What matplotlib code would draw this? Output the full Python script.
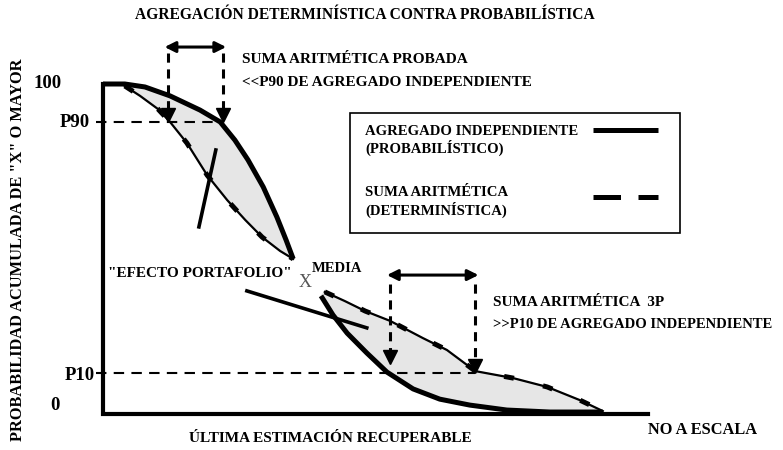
import numpy as np
import matplotlib
matplotlib.use("Agg")
import matplotlib.pyplot as plt
from matplotlib.patches import Rectangle

plt.rcParams['font.family'] = ['Liberation Serif', 'DejaVu Serif']
plt.rcParams['font.weight'] = 'bold'

# schematic units: x = estimation (not to scale, 0..100), y = cumulative probability (0..100)
P90 = 88.5
P10 = 12.4

# upper lobe (high probability end)
prob_hi_x = [0, 4.0, 7.7, 12.3, 17.8, 21.5, 24.2, 26.6, 29.4, 31.9, 33.6, 34.9]
prob_hi_y = [100, 100, 99.1, 96.4, 92.1, 88.5, 83.0, 77.0, 68.8, 59.7, 52.7, 47.0]
det_hi_x = [4.0, 6.8, 10.1, 12.3, 15.4, 19.1, 22.8, 26.1, 29.2, 32.5, 34.9]
det_hi_y = [99.4, 96.4, 92.4, 88.5, 82.1, 72.4, 64.8, 58.8, 53.6, 49.4, 47.0]

# lower lobe (low probability end)
prob_lo_x = [40.0, 42.2, 44.8, 48.4, 52.1, 56.9, 61.8, 67.3, 74.1, 82.0, 91.7]
prob_lo_y = [35.8, 30.0, 24.5, 18.5, 12.7, 7.6, 4.5, 2.7, 1.2, 0.6, 0.6]
det_lo_x = [40.7, 44.4, 48.1, 52.7, 58.7, 63.1, 68.3, 75.2, 81.5, 87.5, 91.7]
det_lo_y = [37.0, 34.2, 31.2, 28.2, 23.0, 19.4, 13.0, 10.9, 8.2, 4.2, 0.9]

# "portfolio effect" strokes
pf_hi_x = [20.7, 17.6]
pf_hi_y = [80.0, 56.7]
pf_lo_x = [26.4, 48.4]
pf_lo_y = [37.3, 26.1]

# arrows marking the gap between deterministic and probabilistic values
gap_hi_x = [11.9, 22.0]
gap_lo_x = [52.7, 68.3]

fig = plt.figure(figsize=(7.83, 4.5), dpi=100)
ax = fig.add_axes([0, 0, 1, 1])
ax.set_xlim(-103 / 5.45, 680 / 5.45)
ax.set_ylim(-36 / 3.3, 100 + 84 / 3.3)
ax.axis('off')

fill_c = '#e6e6e6'
ax.fill(prob_hi_x + det_hi_x[::-1], prob_hi_y + det_hi_y[::-1], color=fill_c, zorder=1)
ax.fill(prob_lo_x + det_lo_x[::-1], prob_lo_y + det_lo_y[::-1], color=fill_c, zorder=1)

# axes frame
ax.plot([0, 0, 100], [100, 0, 0], color='black', lw=3, solid_joinstyle='miter', zorder=4)

# reference percentile lines
ax.plot([-1.2, gap_hi_x[1]], [P90, P90], color='black', lw=1.5, dashes=(5, 3.5), zorder=2)
ax.plot([-1.2, gap_lo_x[1]], [P10, P10], color='black', lw=1.5, dashes=(5, 3.5), zorder=2)

# probabilistic (solid, thick)
for xs, ys in [(prob_hi_x, prob_hi_y), (prob_lo_x, prob_lo_y)]:
    ax.plot(xs, ys, color='black', lw=3.6, solid_capstyle='butt', zorder=3)

# deterministic (thin line with heavy dashes)
for xs, ys in [(det_hi_x, det_hi_y), (det_lo_x, det_lo_y)]:
    ax.plot(xs, ys, color='black', lw=1.6, zorder=3)
    ax.plot(xs, ys, color='black', lw=3.6, dashes=(2, 6), solid_capstyle='butt', zorder=3)

ax.plot(pf_hi_x, pf_hi_y, color='black', lw=2.6, zorder=3)
ax.plot(pf_lo_x, pf_lo_y, color='black', lw=2.6, zorder=3)

# gap arrows
for gx, y_bar, y_top, tips in [(gap_hi_x, 111.2, 109.5, [90.5, 90.5]),
                               (gap_lo_x, 42.1, 39.3, [17.2, 14.4])]:
    ax.annotate('', xy=(gx[0] - 0.6, y_bar), xytext=(gx[1] + 0.6, y_bar),
                arrowprops=dict(arrowstyle='<|-|>', color='black', lw=2.2,
                                mutation_scale=16, shrinkA=0, shrinkB=0), zorder=5)
    for xv, tip in zip(gx, tips):
        ax.plot([xv, xv], [y_top, tip], color='black', lw=2.2, dashes=(3, 2.2), zorder=5)
        ax.plot(xv, tip, marker='v', color='black', markersize=10, zorder=5)

# axis labels
fs = 11.0
ax.text(48.1, 120.9, 'AGREGACIÓN DETERMINÍSTICA CONTRA PROBABILÍSTICA', ha='center', va='center', fontsize=11.2)
ax.text(41.7, -7.3, 'ÚLTIMA ESTIMACIÓN RECUPERABLE', ha='center', va='center', fontsize=fs)
ax.text(100.0, -4.8, 'NO A ESCALA', ha='left', va='center', fontsize=11.8)
ax.text(-15.6, 49.7, 'PROBABILIDAD ACUMULADA DE "X" O MAYOR', ha='center', va='center',
        rotation=90, fontsize=11.8)

for label, xv, yv in [('100', -10.1, 100.3), ('P90', -5.1, 88.2), ('P10', -4.2, 11.8), ('0', -8.8, 2.7)]:
    ax.text(xv, yv, label, ha='center', va='center', fontsize=13.5)

# annotations
ax.text(25.5, 107.3, 'SUMA ARITMÉTICA PROBADA', ha='left', va='center', fontsize=fs)
ax.text(25.5, 100.6, '<<P90 DE AGREGADO INDEPENDIENTE', ha='left', va='center', fontsize=fs)
ax.text(71.6, 33.9, 'SUMA ARITMÉTICA  3P', ha='left', va='center', fontsize=fs)
ax.text(71.6, 27.0, '>>P10 DE AGREGADO INDEPENDIENTE', ha='left', va='center', fontsize=10.5)
ax.text(17.8, 42.7, '"EFECTO PORTAFOLIO"', ha='center', va='center', fontsize=fs)
ax.text(42.9, 44.2, 'MEDIA', ha='center', va='center', fontsize=10.5)
ax.text(37.1, 39.7, 'X', ha='center', va='center', fontsize=13, color='#555555',
        fontweight='normal')

# legend box
ax.add_patch(Rectangle((45.3, 54.8), 60.6, 36.4, fill=False, edgecolor='black', lw=1.2, zorder=5))
ax.text(48.1, 85.5, 'AGREGADO INDEPENDIENTE', ha='left', va='center', fontsize=10.6)
ax.text(48.1, 80.6, '(PROBABILÍSTICO)', ha='left', va='center', fontsize=10.6)
ax.text(48.1, 67.0, 'SUMA ARITMÉTICA', ha='left', va='center', fontsize=10.6)
ax.text(48.1, 61.8, '(DETERMINÍSTICA)', ha='left', va='center', fontsize=10.6)
ax.plot([89.9, 101.8], [86.1, 86.1], color='black', lw=3.6, solid_capstyle='butt')
ax.plot([89.9, 101.8], [65.8, 65.8], color='black', lw=3.6, dashes=(5.5, 3.5))

fig.savefig('out.png', dpi=100)
